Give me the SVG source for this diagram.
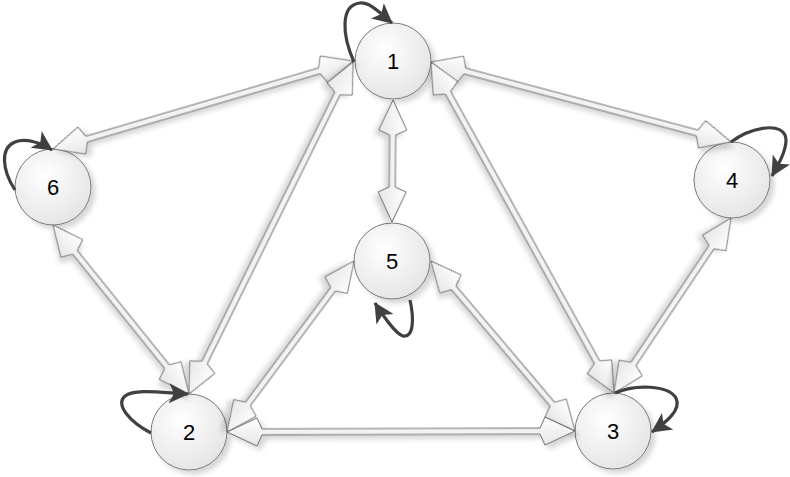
<svg xmlns="http://www.w3.org/2000/svg" width="790" height="477" viewBox="0 0 790 477">
<style>
.node circle{fill:url(#cg);stroke:#7a7a7a;stroke-width:1;filter:url(#sh)}
.node text{font-family:"Liberation Sans",Arial,sans-serif;font-size:22px;fill:#000;text-anchor:middle}
.arr{fill:url(#ag);stroke:#5a5a5a;stroke-width:0.9;stroke-linejoin:miter;filter:url(#sh)}
.loop{fill:none;stroke:#404040;stroke-width:3.2;marker-end:url(#ah)}
</style>
<defs>
<radialGradient id="cg" cx="0.4" cy="0.35" r="0.7">
<stop offset="0" stop-color="#ffffff"/>
<stop offset="1" stop-color="#e4e4e4"/>
</radialGradient>
<linearGradient id="ag" x1="0" y1="0" x2="0" y2="1">
<stop offset="0" stop-color="#ffffff"/>
<stop offset="1" stop-color="#e6e6e6"/>
</linearGradient>
<filter id="sh" x="-20%" y="-20%" width="150%" height="150%">
<feDropShadow dx="4" dy="4" stdDeviation="2.5" flood-color="#000" flood-opacity="0.16"/>
</filter>
<marker id="ah" viewBox="-22 -12 24 24" refX="0" refY="0" markerWidth="24" markerHeight="24" markerUnits="userSpaceOnUse" orient="auto">
<path d="M1,0 L-19,-10 L-14,0 L-19,10 Z" fill="#404040"/>
</marker>
</defs>
<g id="nodes">
<g id="n1" class="node"><circle cx="393" cy="61" r="38"/><text x="393" y="69">1</text></g>
<g id="n2" class="node"><circle cx="189" cy="432" r="38"/><text x="189" y="440">2</text></g>
<g id="n3" class="node"><circle cx="613" cy="431" r="38"/><text x="613" y="439">3</text></g>
<g id="n4" class="node"><circle cx="732" cy="180" r="38"/><text x="732" y="188">4</text></g>
<g id="n5" class="node"><circle cx="392" cy="261" r="38"/><text x="392" y="269">5</text></g>
<g id="n6" class="node"><circle cx="53" cy="187" r="38"/><text x="53" y="195">6</text></g>
</g>
<g id="connectors">
<polygon id="e6-1" class="arr" transform="translate(53,149) rotate(-16.35)" points="0,0 30,-14 35,-3 277.6,-3 282.6,-14 312.6,0 282.6,14 277.6,3 35,3 30,14"/>
<polygon id="e1-2" class="arr" transform="translate(353,62) rotate(116.29)" points="0,0 30,-14 35,-3 335.3,-3 340.3,-14 370.3,0 340.3,14 335.3,3 35,3 30,14"/>
<polygon id="e1-5" class="arr" transform="translate(393,100) rotate(90.5)" points="0,0 30,-14 35,-3 87,-3 92,-14 122,0 92,14 87,3 35,3 30,14"/>
<polygon id="e1-4" class="arr" transform="translate(431,62) rotate(14.93)" points="0,0 30,-14 35,-3 275.5,-3 280.5,-14 310.5,0 280.5,14 275.5,3 35,3 30,14"/>
<polygon id="e1-3" class="arr" transform="translate(431,62) rotate(61.06)" points="0,0 30,-14 35,-3 343.2,-3 348.2,-14 378.2,0 348.2,14 343.2,3 35,3 30,14"/>
<polygon id="e4-3" class="arr" transform="translate(731,218) rotate(123.77)" points="0,0 30,-14 35,-3 175.5,-3 180.5,-14 210.5,0 180.5,14 175.5,3 35,3 30,14"/>
<polygon id="e5-2" class="arr" transform="translate(354,261) rotate(126.6)" points="0,0 30,-14 35,-3 178,-3 183,-14 213,0 183,14 178,3 35,3 30,14"/>
<polygon id="e5-3" class="arr" transform="translate(431,261) rotate(49.73)" points="0,0 30,-14 35,-3 187.8,-3 192.8,-14 222.8,0 192.8,14 187.8,3 35,3 30,14"/>
<polygon id="e2-3" class="arr" transform="translate(227,432) rotate(-0.16)" points="0,0 30,-14 35,-3 313,-3 318,-14 348,0 318,14 313,3 35,3 30,14"/>
<polygon id="e6-2" class="arr" transform="translate(53,225) rotate(51.18)" points="0,0 30,-14 35,-3 181.9,-3 186.9,-14 216.9,0 186.9,14 181.9,3 35,3 30,14"/>
<path id="l1" class="loop" d="M354,62 C342,35 340,5 360,3 C370,2 380,13 392,23"/>
<path id="l6" class="loop" d="M15,190 C2,170 0,148 15,142 C25,138 40,142 52,150"/>
<path id="l2" class="loop" d="M151,433 C130,422 115,405 125,396 C135,388 165,393 188,394"/>
<path id="l5" class="loop" d="M410,300 C414,318 414,338 403,336 C396,334 383,316 375,303"/>
<path id="l3" class="loop" d="M615,393 C635,384 668,385 676,398 C682,410 665,423 652,432"/>
<path id="l4" class="loop" d="M731,142 C750,128 778,122 785,135 C789,145 780,162 772,176"/>
</g>
</svg>
